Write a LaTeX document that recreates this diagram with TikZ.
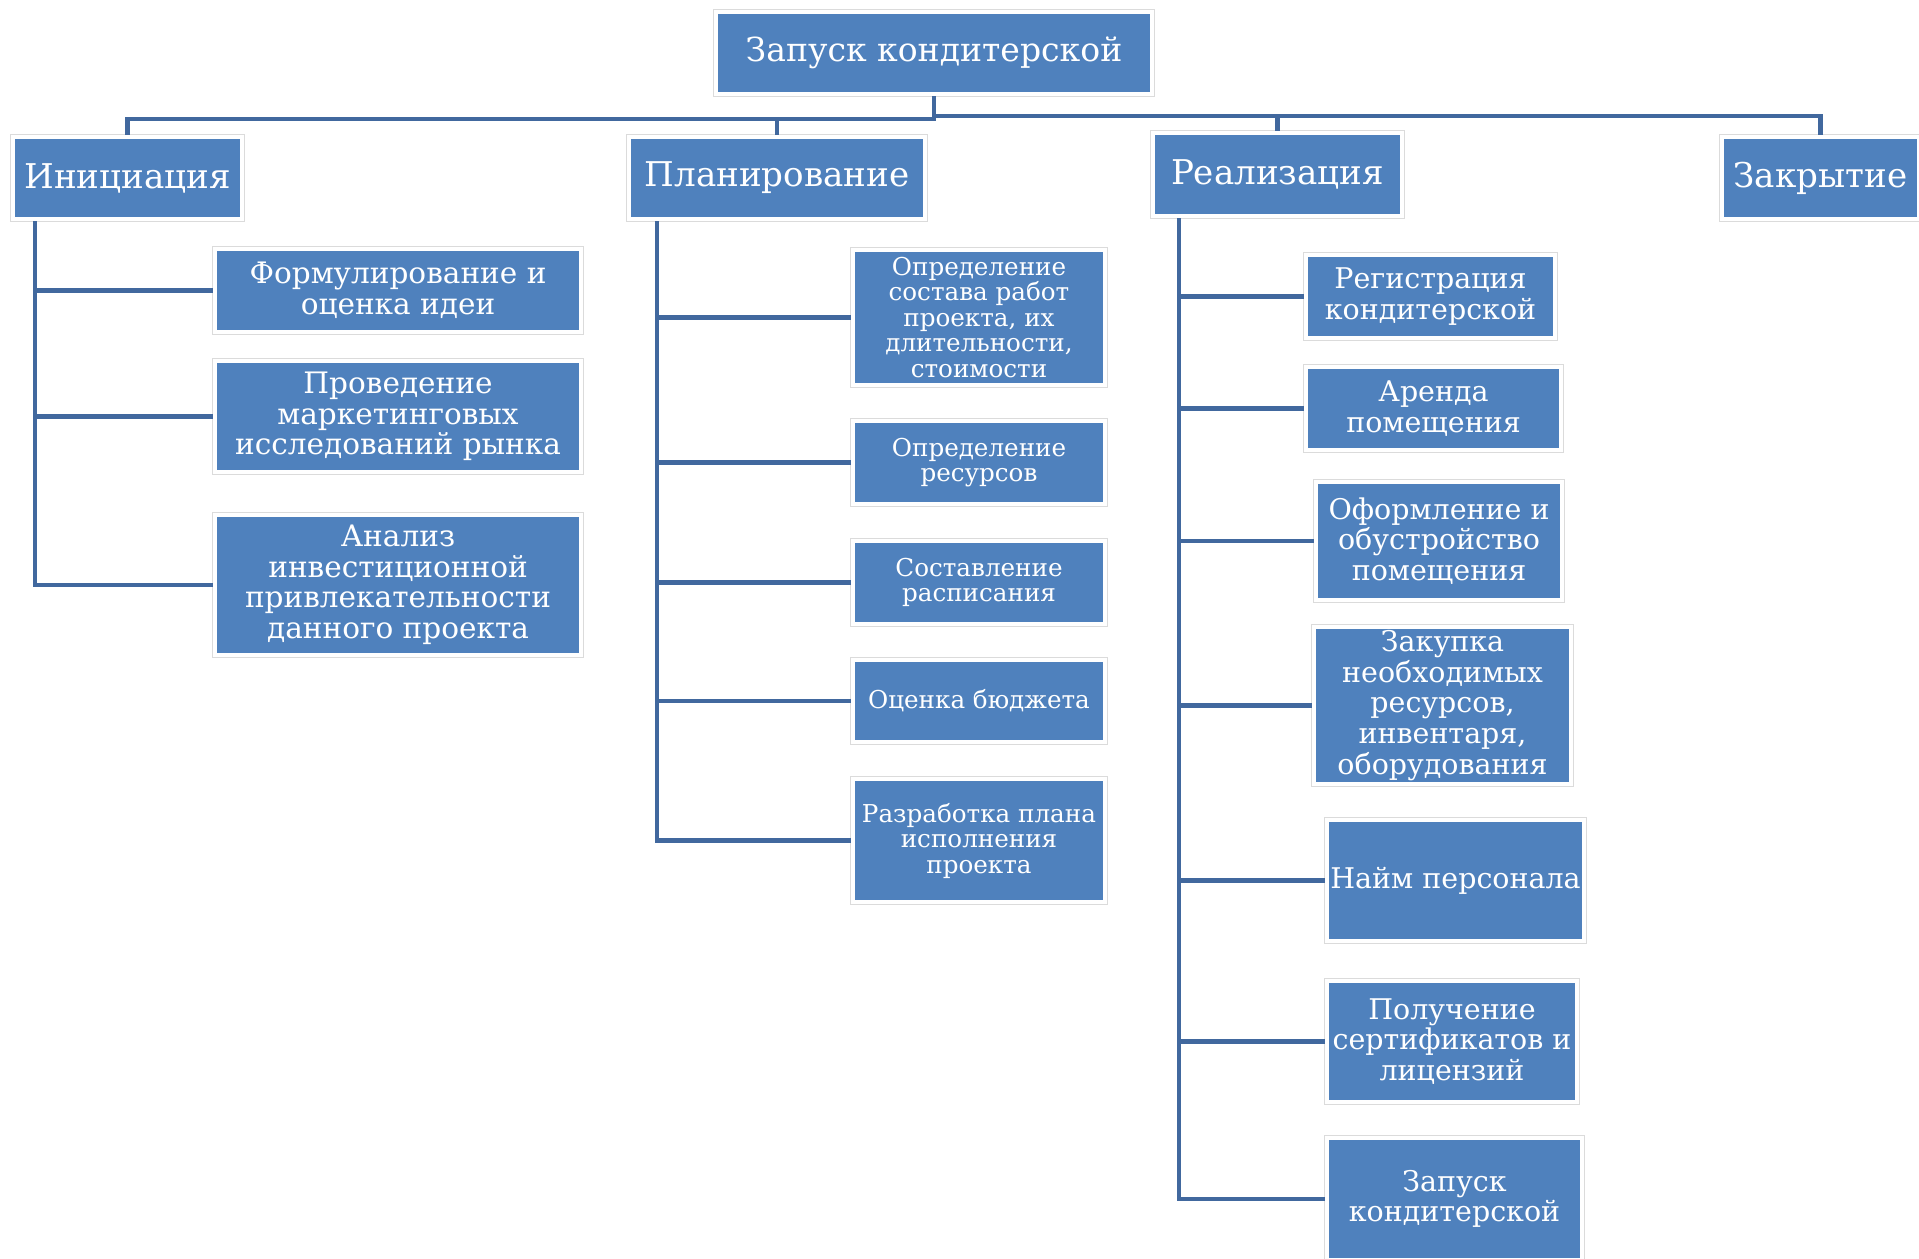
\documentclass[tikz,border=0pt]{standalone}
\usepackage{fontspec}
\setmainfont{DejaVu Serif}
\definecolor{boxblue}{HTML}{4F81BD}
\definecolor{lineblue}{HTML}{41689E}

\begin{document}
\begin{tikzpicture}[x=0.01cm,y=-0.01cm,
  box/.style={rectangle,fill=boxblue,draw=white,line width=1.14pt,
    preaction={draw=black!14,line width=1.5pt},text=white,align=center,inner sep=0pt},
  head/.style={box,font=\fontsize{9.7}{12}\selectfont},
  ini/.style={box,font=\fontsize{8.4}{8.7}\selectfont},
  pln/.style={box,font=\fontsize{7.0}{7.25}\selectfont},
  rea/.style={box,font=\fontsize{8.1}{8.7}\selectfont},
  link/.style={draw=lineblue,line width=1.2pt}]
\useasboundingbox (0,0) rectangle (1919,1258);

\node [box,font=\fontsize{9.4}{11}\selectfont,minimum width=4.36cm,minimum height=0.82cm] (root) at (934,53) {Запуск кондитерской};

\node [head,minimum width=2.29cm,minimum height=0.82cm] (init) at (127.5,178) {Инициация};
\node [head,minimum width=2.96cm,minimum height=0.82cm] (plan) at (777,178) {Планирование};
\node [head,minimum width=2.49cm,minimum height=0.83cm] (real) at (1277.5,174.5) {Реализация};
\node [head,minimum width=1.97cm,minimum height=0.82cm] (close) at (1820.5,178) {Закрытие};

% Инициация
\node [ini,minimum width=3.66cm,minimum height=0.83cm] (i1) at (398,290.5) {Формулирование и\\оценка идеи};
\node [ini,minimum width=3.66cm,minimum height=1.11cm] (i2) at (398,416.5) {Проведение\\маркетинговых\\исследований рынка};
\node [ini,minimum width=3.66cm,minimum height=1.40cm] (i3) at (398,585) {Анализ\\инвестиционной\\привлекательности\\данного проекта};

% Планирование
\node [pln,minimum width=2.52cm,minimum height=1.35cm] (p1) at (979,317.5) {Определение\\состава работ\\проекта, их\\длительности,\\стоимости};
\node [pln,minimum width=2.52cm,minimum height=0.83cm] (p2) at (979,462.5) {Определение\\ресурсов};
\node [pln,minimum width=2.52cm,minimum height=0.83cm] (p3) at (979,582.5) {Составление\\расписания};
\node [pln,minimum width=2.52cm,minimum height=0.82cm] (p4) at (979,701) {Оценка бюджета};
\node [pln,minimum width=2.52cm,minimum height=1.23cm] (p5) at (979,840.5) {Разработка плана\\исполнения\\проекта};

% Реализация
\node [rea,minimum width=2.49cm,minimum height=0.83cm] (r1) at (1430.5,296.5) {Регистрация\\кондитерской};
\node [rea,minimum width=2.55cm,minimum height=0.83cm] (r2) at (1433.5,408.5) {Аренда\\помещения};
\node [rea,minimum width=2.46cm,minimum height=1.18cm] (r3) at (1439,541) {Оформление и\\обустройство\\помещения};
\node [rea,minimum width=2.57cm,minimum height=1.57cm] (r4) at (1442.5,705.5) {Закупка\\необходимых\\ресурсов,\\инвентаря,\\оборудования};
\node [rea,minimum width=2.57cm,minimum height=1.21cm] (r5) at (1455.5,880.5) {Найм персонала};
\node [rea,minimum width=2.50cm,minimum height=1.21cm] (r6) at (1452,1041.5) {Получение\\сертификатов и\\лицензий};
\node [rea,minimum width=2.55cm,minimum height=1.22cm] (r7) at (1454.5,1199) {Запуск\\кондитерской};

% shina
\coordinate (busL) at (0,119);
\coordinate (busR) at (0,116);
\foreach \h in {init,plan}
  \draw [link] (root.south) -- (root.south |- busL) -| (\h.north);
\foreach \h in {real,close}
  \draw [link] (root.south) -- (root.south |- busR) -| (\h.north);

\foreach \c in {i1,i2,i3}
  \draw [link] (init.south west) ++(24,0) |- (\c.west);
\foreach \c in {p1,p2,p3,p4,p5}
  \draw [link] (plan.south west) ++(30,0) |- (\c.west);
\foreach \c in {r1,r2,r3,r4,r5,r6,r7}
  \draw [link] (real.south west) ++(28,0) |- (\c.west);
\end{tikzpicture}
\end{document}
